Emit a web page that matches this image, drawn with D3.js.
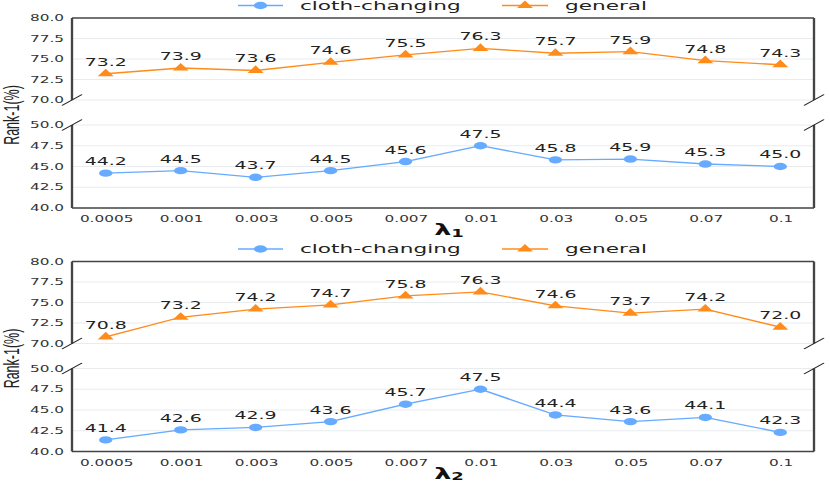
<!DOCTYPE html>
<html>
<head>
<meta charset="utf-8">
<script src="https://cdn.jsdelivr.net/npm/d3@7"></script>
<style>
    body { margin: 0; background: #fff; }
    svg { display: block; }
</style>
</head>
<body>
<svg id="chart" width="830" height="484"></svg>
<script>
// 資料
const categories = ["0.0005", "0.001", "0.003", "0.005", "0.007", "0.01", "0.03", "0.05", "0.07", "0.1"];
const lambda1General = [73.2, 73.9, 73.6, 74.6, 75.5, 76.3, 75.7, 75.9, 74.8, 74.3];
const lambda1Cloth = [44.2, 44.5, 43.7, 44.5, 45.6, 47.5, 45.8, 45.9, 45.3, 45.0];
const lambda2General = [70.8, 73.2, 74.2, 74.7, 75.8, 76.3, 74.6, 73.7, 74.2, 72.0];
const lambda2Cloth = [41.4, 42.6, 42.9, 43.6, 45.7, 47.5, 44.4, 43.6, 44.1, 42.3];
const topTicks = [70, 72.5, 75, 77.5, 80];
const bottomTicks = [40, 42.5, 45, 47.5, 50];
const seriesNames = ["cloth-changing", "general"];

const BLUE = "#66abff";
const ORANGE = "#ff8c1a";
const SX = 1.8; // 原圖橫向被拉伸
const X = px => px / SX;

const svg = d3.select("#chart");
const root = svg.append("g").attr("transform", `scale(${SX},1)`);

drawPanel(0, lambda1General, lambda1Cloth, "1");
drawPanel(243.5, lambda2General, lambda2Cloth, "2");

function drawPanel(oy, general, cloth, sub) {
    const g = root.append("g");

    const x = d3.scalePoint()
        .domain(categories)
        .range([X(72), X(814)])
        .padding(0.45);

    const yTop = d3.scaleLinear().domain([70, 80]).range([oy + 100, oy + 18]);
    const yBot = d3.scaleLinear().domain([40, 50]).range([oy + 208, oy + 125]);

    // 格線
    [[yTop, topTicks], [yBot, bottomTicks]].forEach(([y, ticks]) => {
        g.selectAll(null)
            .data(ticks.slice(0, -1).concat(y === yBot ? [50] : []))
            .enter()
            .append("line")
            .attr("x1", X(72)).attr("x2", X(814))
            .attr("y1", d => y(d)).attr("y2", d => y(d))
            .attr("stroke", "#e8ecef")
            .attr("stroke-width", 1);
    });

    // Y 軸標籤
    [[yTop, topTicks], [yBot, bottomTicks]].forEach(([y, ticks]) => {
        const ax = g.append("g")
            .attr("transform", `translate(${X(72)},0)`)
            .call(d3.axisLeft(y).tickValues(ticks).tickFormat(d3.format(".1f")).tickSize(0).tickPadding(X(8)));
        ax.select(".domain").remove();
        ax.selectAll("text")
            .attr("font-family", "DejaVu Sans")
            .attr("font-size", 8.5)
            .attr("fill", "#333");
    });

    // X 軸標籤
    const xa = g.append("g")
        .attr("transform", `translate(0,${yBot(40)})`)
        .call(d3.axisBottom(x).tickSize(0).tickPadding(8));
    xa.select(".domain").remove();
    xa.selectAll("text")
        .attr("font-family", "DejaVu Sans")
        .attr("font-size", 8.5)
        .attr("fill", "#333");

    // 外框
    const axisColor = "#444";
    const L = X(72), R = X(814);
    const frame = [
        [L, yTop(80), R, yTop(80)],
        [L, yTop(80), L, yTop(70)],
        [R, yTop(80), R, yTop(70)],
        [L, yBot(50), L, yBot(40)],
        [R, yBot(50), R, yBot(40)],
        [L, yBot(40), R, yBot(40)]
    ];
    g.selectAll(null)
        .data(frame)
        .enter()
        .append("line")
        .attr("x1", d => d[0]).attr("y1", d => d[1])
        .attr("x2", d => d[2]).attr("y2", d => d[3])
        .attr("stroke", axisColor)
        .attr("stroke-width", 1.3);

    // 斷軸記號
    const breaks = [[L, yTop(70)], [L, yBot(50)], [R, yTop(70)], [R, yBot(50)]];
    g.selectAll(null)
        .data(breaks)
        .enter()
        .append("line")
        .attr("x1", d => d[0] - X(10)).attr("y1", d => d[1] + 5.5)
        .attr("x2", d => d[0] + X(10)).attr("y2", d => d[1] - 5.5)
        .attr("stroke", "#222")
        .attr("stroke-width", 0.9);

    // 折線
    const series = [
        { values: cloth, y: yBot, color: BLUE, symbol: "circle" },
        { values: general, y: yTop, color: ORANGE, symbol: "triangle" }
    ];

    series.forEach(s => {
        const line = d3.line()
            .x((d, i) => x(categories[i]))
            .y(d => s.y(d));

        g.append("path")
            .datum(s.values)
            .attr("fill", "none")
            .attr("stroke", s.color)
            .attr("stroke-width", 1.3)
            .attr("d", line);

        if (s.symbol === "circle") {
            g.selectAll(null)
                .data(s.values)
                .enter()
                .append("circle")
                .attr("cx", (d, i) => x(categories[i]))
                .attr("cy", d => s.y(d))
                .attr("r", 3.7)
                .attr("fill", s.color);
        } else {
            g.selectAll(null)
                .data(s.values)
                .enter()
                .append("path")
                .attr("d", d3.symbol(d3.symbolTriangle, 34))
                .attr("transform", (d, i) => `translate(${x(categories[i])},${s.y(d)})`)
                .attr("fill", s.color);
        }

        g.selectAll(null)
            .data(s.values)
            .enter()
            .append("text")
            .attr("x", (d, i) => x(categories[i]))
            .attr("y", d => s.y(d) - 8)
            .attr("text-anchor", "middle")
            .attr("font-family", "DejaVu Sans")
            .attr("font-size", 10.5)
            .attr("fill", "#222")
            .text(d => d.toFixed(1));
    });

    // 圖例
    const ly = oy + 5.5;
    const legend = [
        { name: seriesNames[0], color: BLUE, x0: 238, x1: 283, tx: 300, symbol: "circle" },
        { name: seriesNames[1], color: ORANGE, x0: 502, x1: 548, tx: 565, symbol: "triangle" }
    ];
    legend.forEach(d => {
        g.append("line")
            .attr("x1", X(d.x0)).attr("x2", X(d.x1))
            .attr("y1", ly).attr("y2", ly)
            .attr("stroke", d.color)
            .attr("stroke-width", 1.3);
        const cx = X((d.x0 + d.x1) / 2);
        if (d.symbol === "circle") {
            g.append("circle").attr("cx", cx).attr("cy", ly).attr("r", 3.7).attr("fill", d.color);
        } else {
            g.append("path")
                .attr("d", d3.symbol(d3.symbolTriangle, 34))
                .attr("transform", `translate(${cx},${ly})`)
                .attr("fill", d.color);
        }
        g.append("text")
            .attr("x", X(d.tx))
            .attr("y", ly + 4.5)
            .attr("font-family", "DejaVu Sans")
            .attr("font-size", 12)
            .attr("fill", "#222")
            .text(d.name);
    });

    // Y 軸標題
    g.append("text")
        .attr("transform", `translate(${X(19)},${oy + 115}) rotate(-90)`)
        .attr("text-anchor", "middle")
        .attr("font-family", "Liberation Sans")
        .attr("font-size", 12.5)
        .attr("fill", "#222")
        .text("Rank-1(%)");

    // X 軸標題 λ
    const lt = g.append("text")
        .attr("x", X(449))
        .attr("y", oy + 235.5)
        .attr("text-anchor", "middle")
        .attr("font-family", "DejaVu Sans")
        .attr("font-weight", "bold")
        .attr("font-size", 15)
        .attr("fill", "#111");
    lt.append("tspan").text("λ");
    lt.append("tspan").attr("font-size", 10).attr("dy", 1.5).text(sub);
}
</script>
</body>
</html>
